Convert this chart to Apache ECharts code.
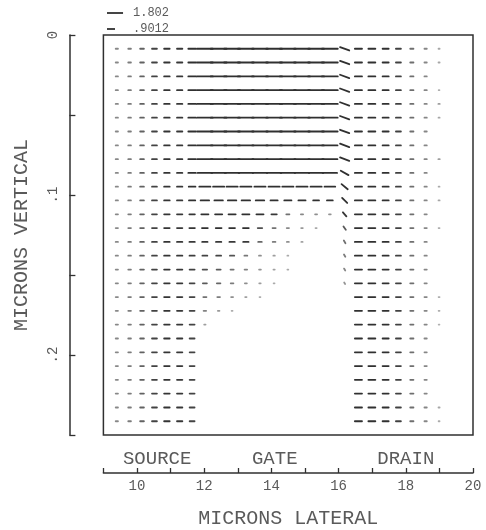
<!DOCTYPE html>
<html><head><meta charset="utf-8">
<script src="https://cdn.jsdelivr.net/npm/echarts@6/dist/echarts.min.js"></script>
<style>html,body{margin:0;background:#fff}#c{width:486px;height:530px}</style>
</head><body><div id="c"></div>
<script>
// ---- data ----
// lateral grid positions (microns) of the 25 vector columns
const colX = [9.40, 9.78, 10.15, 10.52, 10.89, 11.27, 11.64, 12.02, 12.43, 12.83, 13.24, 13.66, 14.08,
              14.49, 14.91, 15.33, 15.74, 16.18, 16.59, 16.99, 17.40, 17.78, 18.18, 18.59, 18.99];
// vertical grid positions (microns) of the 28 vector rows
const rowY = [0.0086, 0.0172, 0.0259, 0.0345, 0.0431, 0.0517, 0.0603, 0.0690, 0.0776, 0.0862,
              0.0948, 0.1034, 0.1121, 0.1207, 0.1293, 0.1379, 0.1466, 0.1552, 0.1638, 0.1724,
              0.1810, 0.1897, 0.1983, 0.2069, 0.2155, 0.2241, 0.2328, 0.2414];
// source columns 0-5 (same in every row)
const sourceJx = [0.25, 0.30, 0.42, 0.55, 0.62, 0.60];
// column 6 (source edge), per row
const col6Jx = [0.85, 0.85, 0.85, 0.85, 0.85, 0.85, 0.85, 0.85, 0.85, 0.85, 0.75, 0.70, 0.62, 0.62,
                0.60, 0.58, 0.56, 0.55, 0.55, 0.55, 0.55, 0.55, 0.55, 0.55, 0.55, 0.55, 0.55, 0.55];
// gate columns 7-16, per row
const gateJx = [
  [1.78, 1.78, 1.78, 1.78, 1.78, 1.78, 1.78, 1.78, 1.78, 1.78],
  [1.78, 1.78, 1.78, 1.78, 1.78, 1.78, 1.78, 1.78, 1.78, 1.78],
  [1.78, 1.78, 1.78, 1.78, 1.78, 1.78, 1.78, 1.78, 1.78, 1.78],
  [1.78, 1.78, 1.78, 1.78, 1.78, 1.78, 1.78, 1.78, 1.78, 1.78],
  [1.78, 1.78, 1.78, 1.78, 1.78, 1.78, 1.78, 1.78, 1.78, 1.78],
  [1.75, 1.75, 1.75, 1.75, 1.75, 1.75, 1.75, 1.75, 1.75, 1.75],
  [1.75, 1.75, 1.75, 1.75, 1.75, 1.75, 1.75, 1.75, 1.75, 1.75],
  [1.72, 1.72, 1.72, 1.72, 1.72, 1.72, 1.72, 1.72, 1.72, 1.72],
  [1.70, 1.70, 1.70, 1.70, 1.70, 1.70, 1.70, 1.70, 1.70, 1.70],
  [1.62, 1.62, 1.62, 1.62, 1.62, 1.62, 1.62, 1.62, 1.62, 1.62],
  [1.25, 1.25, 1.25, 1.25, 1.25, 1.25, 1.25, 1.25, 1.25, 1.20],
  [0.95, 0.95, 0.95, 0.95, 0.95, 0.80, 0.80, 0.80, 0.65, 0.65],
  [0.80, 0.80, 0.80, 0.80, 0.80, 0.60, 0.35, 0.25, 0.22, 0.20],
  [0.65, 0.65, 0.65, 0.65, 0.50, 0.35, 0.25, 0.18, 0.12, 0],
  [0.60, 0.60, 0.60, 0.60, 0.40, 0.30, 0.22, 0.14, 0, 0],
  [0.55, 0.55, 0.48, 0.32, 0.22, 0.16, 0.10, 0, 0, 0],
  [0.50, 0.45, 0.35, 0.28, 0.20, 0.14, 0.10, 0, 0, 0],
  [0.45, 0.40, 0.30, 0.22, 0.16, 0.10, 0, 0, 0, 0],
  [0.35, 0.30, 0.22, 0.15, 0.10, 0, 0, 0, 0, 0],
  [0.28, 0.18, 0.10, 0, 0, 0, 0, 0, 0, 0],
  [0.15, 0, 0, 0, 0, 0, 0, 0, 0, 0],
  [0, 0, 0, 0, 0, 0, 0, 0, 0, 0],
  [0, 0, 0, 0, 0, 0, 0, 0, 0, 0],
  [0, 0, 0, 0, 0, 0, 0, 0, 0, 0],
  [0, 0, 0, 0, 0, 0, 0, 0, 0, 0],
  [0, 0, 0, 0, 0, 0, 0, 0, 0, 0],
  [0, 0, 0, 0, 0, 0, 0, 0, 0, 0],
  [0, 0, 0, 0, 0, 0, 0, 0, 0, 0]
];
// column 17 (gate/drain edge): horizontal and downward components, per row
const edgeJx = [1.03, 1.03, 1.03, 1.03, 1.03, 1.03, 1.03, 1.03, 1.03, 0.87, 0.69, 0.57, 0.39, 0.26,
                0.18, 0.15, 0.13, 0.10, 0, 0, 0, 0, 0, 0, 0, 0, 0, 0];
const edgeJy = [0.38, 0.38, 0.38, 0.38, 0.38, 0.38, 0.38, 0.38, 0.38, 0.50, 0.58, 0.57, 0.46, 0.37,
                0.30, 0.26, 0.22, 0.17, 0, 0, 0, 0, 0, 0, 0, 0, 0, 0];
// drain columns 18-23 (same in every row)
const drainJx = [0.80, 0.78, 0.68, 0.56, 0.36, 0.26];
// drain column 24, per row (faint)
const drainTailJx = [0.12, 0.12, 0, 0.08, 0.15, 0.12, 0, 0, 0.15, 0, 0.10, 0.12, 0, 0.10,
                     0, 0, 0, 0, 0.10, 0.10, 0.08, 0, 0, 0, 0, 0, 0.12, 0.10];
const legendValues = [1.802, 0.9012];
const legendLabels = ['1.802', '.9012'];
const regionNames = ['SOURCE', 'GATE', 'DRAIN'];
const regionX = [10.6, 14.1, 18.0];

// ---- styling ----
const PX_PER_UNIT = 8.9;
const INK = '#303030';
const TXT = '#5a5a5a';
const FONT = '"Liberation Mono", "DejaVu Sans Mono", monospace';

const cells = [];
rowY.forEach((y, r) => {
  const row = [...sourceJx, col6Jx[r], ...gateJx[r], edgeJx[r], ...drainJx, drainTailJx[r]];
  row.forEach((jx, c) => {
    const jy = c === 17 ? edgeJy[r] : 0;
    if (jx || jy) cells.push([colX[c], y, jx, jy]);
  });
});

const chart = echarts.init(document.getElementById('c'));
chart.setOption({
  animation: false,
  backgroundColor: '#fff',
  grid: { left: 103.4, top: 35, width: 369.6, height: 400, show: true, containLabel: false,
          outerBoundsMode: 'none',
          borderColor: INK, borderWidth: 1.5, backgroundColor: 'transparent' },
  xAxis: {
    type: 'value', min: 9, max: 20, interval: 1, position: 'bottom', offset: 38,
    axisLine: { onZero: false, lineStyle: { color: INK, width: 1.5 } },
    axisTick: { inside: true, length: 5, lineStyle: { color: INK, width: 1.3 } },
    axisLabel: { formatter: v => (v % 2 === 0 ? String(v) : ''), showMaxLabel: true, showMinLabel: true,
                 fontFamily: FONT, fontSize: 14, color: TXT, margin: 6 },
    splitLine: { show: false },
    name: 'MICRONS LATERAL', nameLocation: 'middle', nameGap: 36,
    nameTextStyle: { fontFamily: FONT, fontSize: 20, color: TXT }
  },
  yAxis: {
    type: 'value', inverse: true, min: 0, max: 0.25, interval: 0.05, position: 'left', offset: 34,
    axisLine: { onZero: false, lineStyle: { color: INK, width: 1.5 } },
    axisTick: { inside: true, length: 6, lineStyle: { color: INK, width: 1.3 } },
    axisLabel: {
      formatter: v => { const t = Math.round(v * 100); return t === 0 ? '0' : t === 10 ? '.1' : t === 20 ? '.2' : ''; },
      rotate: 90, margin: 9, fontFamily: FONT, fontSize: 14, color: TXT, showMaxLabel: true, showMinLabel: true
    },
    splitLine: { show: false },
    name: 'MICRONS VERTICAL', nameLocation: 'middle', nameGap: 38, nameRotate: 90,
    nameTextStyle: { fontFamily: FONT, fontSize: 20, color: TXT }
  },
  series: [{
    type: 'custom', coordinateSystem: 'cartesian2d', data: cells, clip: false, silent: true,
    renderItem(params, api) {
      const p = api.coord([api.value(0), api.value(1)]);
      const jx = api.value(2), jy = api.value(3);
      const hx = jx * PX_PER_UNIT / 2, hy = jy * PX_PER_UNIT / 2;
      const mag = Math.hypot(jx, jy);
      return {
        type: 'line',
        shape: { x1: p[0] - hx, y1: p[1] - hy, x2: p[0] + hx, y2: p[1] + hy },
        style: { stroke: INK, lineWidth: 1.8, lineCap: 'round', opacity: Math.min(1, 0.3 + mag * 1.1) }
      };
    }
  }]
});

const graphics = [];
legendValues.forEach((v, i) => {
  const y = 13 + i * 16;
  graphics.push({ type: 'line', shape: { x1: 107, y1: y, x2: 107 + v * PX_PER_UNIT, y2: y },
                  style: { stroke: INK, lineWidth: 1.8 } });
  graphics.push({ type: 'text', x: 133, y: y, style: { text: legendLabels[i], fontFamily: FONT, fontSize: 12,
                  fill: TXT, verticalAlign: 'middle', align: 'left' } });
});
regionNames.forEach((name, i) => {
  const px = chart.convertToPixel({ gridIndex: 0 }, [regionX[i], 0])[0];
  graphics.push({ type: 'text', x: px, y: 459, style: { text: name, fontFamily: FONT, fontSize: 19,
                  fill: TXT, align: 'center', verticalAlign: 'middle' } });
});
chart.setOption({ graphic: graphics });
</script></body></html>
